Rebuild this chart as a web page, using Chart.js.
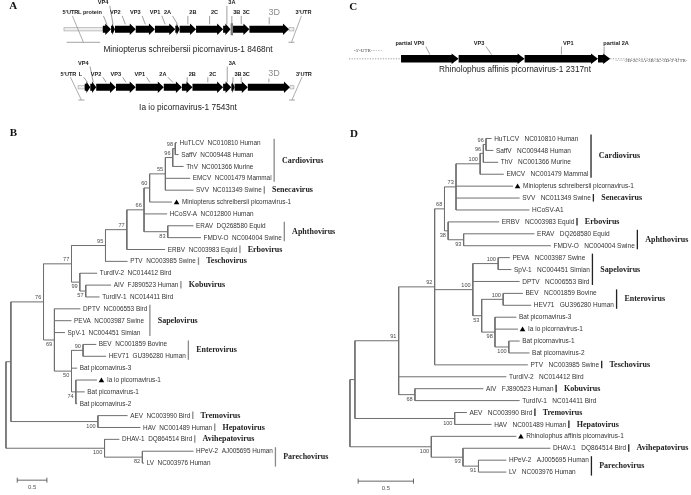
<!DOCTYPE html>
<html><head><meta charset="utf-8">
<script src="https://cdn.jsdelivr.net/npm/chart.js@4.4.1/dist/chart.umd.min.js"></script>
<style>html,body{margin:0;padding:0;background:#fff}canvas{display:block}</style>
</head><body>
<canvas id="c" width="691" height="495"></canvas>
<script>
// ================= DATA =================
// Panel A – genome maps (nt positions)
const a1Genes  = ['L protein','VP4','VP2','VP3','VP1','2A','2B','2C','3A','3B','3C','3D'];
const a1Start  = [1430,1733,1878,2643,3349,4099,4259,4863,5860,6137,6225,6829];
const a1End    = [1733,1878,2643,3349,4099,4259,4863,5860,6137,6225,6829,8285];
const a1Length = 8468;
const a1Caption = 'Miniopterus schreibersii picornavirus-1 8468nt';

const a2Genes  = ['L','VP4','VP2','VP3','VP1','2A','2B','2C','3A','3B','3C','3D'];
const a2Start  = [231,425,632,1323,2014,2995,3628,3997,5068,5355,5470,5932];
const a2End    = [425,632,1323,2014,2995,3628,3997,5068,5355,5470,5932,7404];
const a2Length = 7543;
const a2Caption = 'Ia io picornavirus-1 7543nt';

// Panel C – partial genome
const cGenes  = ['partial VP0','VP3','VP1','partial 2A'];
const cStart  = [0,638,1369,2182];
const cEnd    = [638,1369,2182,2317];
const cLength = 2317;
const cCaption = 'Rhinolophus affinis picornavirus-1 2317nt';
const cLeftText = "-5'-UTR-\u00b7\u00b7\u00b7\u00b7\u00b7\u00b7";
const cRightText = "\u00b7\u00b7\u00b7\u00b7\u00b7\u00b72B-2C-3A-3B-3C-3D-3'-UTR-";

// Panel B – tree (distances in substitutions/site)
const bNodeIds     = ['root','n7','n76','n77b','n95','n77a','n66','n60','n55','n96','n98','n83','n99','n57','n69','n50','n90','n74','nAH','nAP','n82'];
const bNodeParents = [null,'root','n7','n76','n77b','n95','n77a','n66','n60','n55','n96','n66','n77b','n99','n76','n69','n50','n50','n7','root','nAP'];
const bNodeDepth   = [0,0.083,0.633,1.105,1.678,2.038,2.328,2.422,2.688,2.812,2.855,2.728,1.245,1.345,0.817,1.105,1.300,1.178,1.550,1.662,2.300];
const bNodeSupport = [null,null,76,77,95,77,66,60,55,96,98,83,99,57,69,50,90,74,100,100,82];
const bLeafLabels = [
 'HuTLCV  NC010810 Human','SaffV  NC009448 Human','ThV  NC001366 Murine','EMCV  NC001479 Mammal',
 'SVV  NC011349 Swine','Miniopterus schreibersii picornavirus-1','HCoSV-A  NC012800 Human',
 'ERAV  DQ268580 Equid','FMDV-O  NC004004 Swine','ERBV  NC003983 Equid','PTV  NC003985 Swine',
 'TurdIV-2  NC014412 Bird','AIV  FJ890523 Human','TurdIV-1  NC014411 Bird','DPTV  NC006553 Bird',
 'PEVA  NC003987 Swine','SpV-1  NC004451 Simian','BEV  NC001859 Bovine','HEV71  GU396280 Human',
 'Bat picornavirus-3','Ia io picornavirus-1','Bat picornavirus-1','Bat picornavirus-2',
 'AEV  NC003990 Bird','HAV  NC001489 Human','DHAV-1  DQ864514 Bird','HPeV-2  AJ005695 Human','LV  NC003976 Human'];
const bLeafParents = ['n98','n98','n96','n55','n55','n60','n66','n83','n83','n77a','n95','n99','n57','n57','n69','n69','n69','n90','n90','n50','n74','n74','n74','nAH','nAH','nAP','n82','n82'];
const bLeafDepth   = [2.883,2.912,2.995,3.105,3.162,2.800,2.717,3.162,3.288,2.683,2.050,1.538,1.772,1.578,1.255,1.105,0.995,1.522,1.688,1.200,1.533,1.328,1.200,2.050,2.267,1.912,3.162,2.328];
const bMarked = ['Miniopterus schreibersii picornavirus-1','Ia io picornavirus-1'];
const bGenus      = ['Cardiovirus','Senecavirus','Aphthovirus','Erbovirus','Teschovirus','Kobuvirus','Sapelovirus','Enterovirus','Tremovirus','Hepatovirus','Avihepatovirus','Parechovirus'];
const bGenusFirst = [0,4,7,9,10,12,14,17,23,24,25,26];
const bGenusLast  = [3,4,8,9,10,12,16,18,23,24,25,27];

// Panel D – tree
const dNodeIds     = ['root','R1','n91b','n92','n68t','n73','n100C','n96a','n96b','n38','n93a','n100E','n100P','n53','n100BE','n98','n100B','n68','n100A','n100R','n93','n91'];
const dNodeParents = [null,'root','R1','n91b','n92','n68t','n73','n100C','n96a','n68t','n38','n92','n100E','n100E','n53','n53','n98','n91b','R1','root','n100R','n93'];
const dNodeDepth   = [0,0.045,0.440,0.765,0.854,0.958,1.176,1.205,1.229,0.887,1.027,1.110,1.339,1.190,1.384,1.310,1.435,0.587,0.946,0.735,1.021,1.161];
const dNodeSupport = [null,null,91,92,68,73,100,96,96,38,93,100,100,53,100,98,100,68,100,100,93,91];
const dLeafLabels = [
 'HuTLCV   NC010810 Human','SaffV   NC009448 Human','ThV   NC001366 Murine','EMCV   NC001479 Mammal',
 'Miniopterus schreibersii picornavirus-1','SVV   NC011349 Swine','HCoSV-A1','ERBV   NC003983 Equid',
 'ERAV   DQ268580 Equid','FMDV-O   NC004004 Swine','PEVA   NC003987 Swine','SpV-1   NC004451 Simian',
 'DPTV   NC006553 Bird','BEV   NC001859 Bovine','HEV71   GU396280 Human','Bat picornavirus-3',
 'Ia io picornavirus-1','Bat picornavirus-1','Bat picornavirus-2','PTV   NC003985 Swine',
 'TurdIV-2   NC014412 Bird','AIV   FJ890523 Human','TurdIV-1   NC014411 Bird','AEV   NC003990 Bird',
 'HAV   NC001489 Human','Rhinolophus affinis picornavirus-1','DHAV-1   DQ864514 Bird','HPeV-2   AJ005695 Human','LV   NC003976 Human'];
const dLeafParents = ['n96b','n96b','n96a','n100C','n73','n73','n73','n38','n93a','n93a','n100P','n100P','n100E','n100BE','n100BE','n98','n98','n100B','n100B','n92','n91b','n68','n68','n100A','n100A','n100R','n93','n91','n91'];
const dLeafDepth   = [1.279,1.295,1.339,1.390,1.473,1.533,1.622,1.348,1.667,1.815,1.444,1.458,1.533,1.562,1.637,1.503,1.518,1.533,1.622,1.607,1.413,1.205,1.533,1.056,1.279,1.503,1.810,1.413,1.413];
const dMarked = ['Miniopterus schreibersii picornavirus-1','Ia io picornavirus-1','Rhinolophus affinis picornavirus-1'];
const dGenus      = ['Cardiovirus','Senecavirus','Erbovirus','Aphthovirus','Sapelovirus','Enterovirus','Teschovirus','Kobuvirus','Tremovirus','Hepatovirus','Avihepatovirus','Parechovirus'];
const dGenusFirst = [0,5,7,8,10,13,19,21,23,24,26,27];
const dGenusLast  = [3,5,7,9,12,14,19,21,23,24,26,28];

const scaleBarLength = 0.5;
const scaleBarLabel = '0.5';

// ================= LAYOUT / STYLE =================
const W = 691, H = 495;
const SANS = '"Liberation Sans", Arial, Helvetica, sans-serif';
const SERIF = '"Liberation Serif", "Times New Roman", serif';
const L = {
  A1:{scale:'xA1', px0:60.7, k:1/36.4, yc:29.3, labDy:-16.6, upDy:-26.6, utrDy:13, caption:[188,50], up:['VP4','3A'], box:['3B'], shift:{'L protein':-17}},
  A2:{scale:'xA2', px0:75, k:1/34.55, yc:87.3, labDy:-13.3, upDy:-24, utrDy:12.7, caption:[188,107.4], up:['VP4','3A'], box:[], shift:{'L':-7}},
  C:{scale:'xC', px0:401.7, k:1/10.95, yc:58.8, labDy:-15.5, caption:[515,70], shift:{'partial VP0':-20,'VP3':-12.5,'VP1':7,'partial 2A':12}},
  B:{xs:'xB', ys:'yB', px0:2, ppu:60, py0:141, ppl:12.06, leafFont:6.4, lineColor:'#6f6f6f', barColor:'#8a8a8a', bar:[0.19,28.44], letter:[13.5,133]},
  D:{xs:'xD', ys:'yD', px0:350, ppu:112, py0:136.7, ppl:12.11, leafFont:6.5, lineColor:'#6f6f6f', barColor:'#222', bar:[0.074,28.76], letter:[354,134]},
  letters:{A:[13.3,6.2], C:[353.3,6.7]}
};
const belowB = ['n83','n99','n57','n69','n50','n74','nAH','nAP','n82'];
const belowD = ['n38','n93a','n53','n98','n100B','n68','n100A','n100R','n93','n91'];

function xRange(px0, ppu){ const min = -px0/ppu; return {min, max: min + W/ppu}; }
function yRange(py0, ppl){ const min = -py0/ppl; return {min, max: min + H/ppl}; }

// ================= TREE BUILD =================
function buildTree(ids, parents, depth, support, leafLabels, leafParents, leafDepth){
  const nodes = {};
  ids.forEach((id,i)=>nodes[id]={id, parent:parents[i], depth:depth[i], support:support[i], children:[], leaf:false});
  const leaves = leafLabels.map((lab,i)=>({id:'leaf'+i, label:lab, parent:leafParents[i], depth:leafDepth[i], y:i, leaf:true}));
  ids.forEach(id=>{const n=nodes[id]; if(n.parent) nodes[n.parent].children.push(n);});
  leaves.forEach(l=>nodes[l.parent].children.push(l));
  function ys(n){ if(n.leaf) return n.y; const cy=n.children.map(ys); n.ymin=Math.min(...cy); n.ymax=Math.max(...cy); n.y=(n.ymin+n.ymax)/2; return n.y; }
  ys(nodes[ids[0]]);
  const segs = [];
  const all = ids.map(id=>nodes[id]).concat(leaves);
  all.forEach(n=>{
    if(n.parent){ const p=nodes[n.parent]; segs.push({x:p.depth,y:n.y},{x:n.depth,y:n.y},{x:null,y:null}); }
    if(!n.leaf){ segs.push({x:n.depth,y:n.ymin},{x:n.depth,y:n.ymax},{x:null,y:null}); }
  });
  return {nodes, leaves, segs};
}
const treeB = buildTree(bNodeIds,bNodeParents,bNodeDepth,bNodeSupport,bLeafLabels,bLeafParents,bLeafDepth);
const treeD = buildTree(dNodeIds,dNodeParents,dNodeDepth,dNodeSupport,dLeafLabels,dLeafParents,dLeafDepth);

function markerData(tree, marked, ppu){
  return tree.leaves.filter(l=>marked.includes(l.label)).map(l=>({x:l.depth+4.6/ppu, y:l.y+0.05}));
}

// ================= DRAW HELPERS =================
function arrow(ctx,x0,x1,yc,bh,hh,hlMax){
  const len=x1-x0, hl=Math.min(hlMax, len*0.7);
  ctx.beginPath();
  ctx.moveTo(x0,yc-bh/2); ctx.lineTo(x1-hl,yc-bh/2); ctx.lineTo(x1-hl,yc-hh/2);
  ctx.lineTo(x1,yc); ctx.lineTo(x1-hl,yc+hh/2); ctx.lineTo(x1-hl,yc+bh/2); ctx.lineTo(x0,yc+bh/2);
  ctx.closePath(); ctx.fill();
}
function line(ctx,x0,y0,x1,y1,color,w){ctx.beginPath();ctx.strokeStyle=color;ctx.lineWidth=w;ctx.moveTo(x0,y0);ctx.lineTo(x1,y1);ctx.stroke();}

function drawGenome(chart, genes, starts, ends, length, caption, lay, isPartial){
  const ctx=chart.ctx, sc=chart.scales[lay.scale];
  const X=v=>sc.getPixelForValue(v);
  const yc=lay.yc;
  ctx.save();
  const gx0=X(starts[0]), gx1=X(ends[ends.length-1]);
  if(!isPartial){
    [[X(0),gx0],[gx1,X(length)]].forEach(([a,b])=>{
      ctx.fillStyle='#efefef'; ctx.fillRect(a,yc-1.6,b-a,3.2);
      ctx.strokeStyle='#a8a8a8'; ctx.lineWidth=0.7; ctx.strokeRect(a,yc-1.6,b-a,3.2);
    });
  } else {
    ctx.setLineDash([1.2,1.4]);
    line(ctx,gx0-52,yc,gx0,yc,'#9a9a9a',1);
    line(ctx,gx1,yc,gx1+70,yc,'#9a9a9a',1);
    ctx.setLineDash([]);
  }
  genes.forEach((g,i)=>{
    const x0=X(starts[i]), x1=X(ends[i]);
    if(lay.box && lay.box.includes(g)){ ctx.fillStyle='#7d7d7d'; ctx.fillRect(x0,yc-6,x1-x0,12); }
    else { ctx.fillStyle='#000'; if(isPartial) arrow(ctx,x0,x1,yc,7.6,10.5,7); else arrow(ctx,x0,x1,yc,7,11.5,6); }
  });
  const structural=['L protein','L','VP4','VP2','VP3','VP1','2A','partial VP0'];
  genes.forEach((g,i)=>{
    const x0=X(starts[i]), x1=X(ends[i]), mid=(x0+x1)/2;
    let shift = (lay.shift && lay.shift[g]!==undefined) ? lay.shift[g] : (structural.includes(g)?-10:5);
    const lx = mid+shift;
    const ly = yc + ((lay.up && lay.up.includes(g)) ? lay.upDy : lay.labDy);
    if(g==='3D'){ ctx.font='9px '+SANS; ctx.fillStyle='#8c8c8c'; }
    else { ctx.font='bold 5.6px '+SANS; ctx.fillStyle='#1a1a1a'; }
    ctx.textAlign='center'; ctx.textBaseline='middle';
    ctx.fillText(g,lx,ly);
    const w=ctx.measureText(g).width;
    const d=mid-lx, lim=w/2+1.5;
    const sx=lx+Math.max(-lim,Math.min(lim,d));
    const sy=ly+(g==='3D'?4.5:3.2);
    line(ctx,sx,sy,mid,yc-(isPartial?4.2:5),'#606060',0.6);
  });
  if(!isPartial){
    const u5m=(X(0)+gx0)/2, u3m=(gx1+X(length))/2, by=yc+lay.utrDy;
    ctx.font='bold 5.6px '+SANS; ctx.fillStyle='#1a1a1a'; ctx.textAlign='center'; ctx.textBaseline='middle';
    const l5x=u5m-13, l3x=u3m+12, ly=yc+lay.labDy;
    ctx.fillText("5'UTR",l5x,ly); ctx.fillText("3'UTR",l3x,ly);
    line(ctx,l5x+2,ly+3.2,u5m,by,'#8a8a8a',0.7);
    line(ctx,l3x-2,ly+3.2,u3m,by,'#8a8a8a',0.7);
    const h5=Math.max(6,(gx0-X(0))*0.86);
    line(ctx,u5m-h5/2,by,u5m+h5/2,by,'#8a8a8a',0.8);
    line(ctx,u3m-3,by,u3m+3,by,'#8a8a8a',0.8);
  } else {
    ctx.font='5px '+SERIF; ctx.fillStyle='#444'; ctx.textBaseline='middle';
    ctx.textAlign='left'; ctx.fillText(cLeftText,gx0-47,yc-8);
    ctx.fillText(cRightText,gx1+5,yc+2);
  }
  ctx.font='8.3px '+SANS; ctx.fillStyle='#222'; ctx.textAlign='center'; ctx.textBaseline='middle';
  ctx.fillText(caption,lay.caption[0],lay.caption[1]);
  ctx.restore();
}

function drawTreeText(chart, tree, lay, marked, below, genus, gFirst, gLast){
  const ctx=chart.ctx, xs=chart.scales[lay.xs], ys=chart.scales[lay.ys];
  const X=v=>xs.getPixelForValue(v), Y=v=>ys.getPixelForValue(v);
  ctx.save();
  ctx.font=lay.leafFont+'px '+SANS; ctx.fillStyle='#333'; ctx.textAlign='left'; ctx.textBaseline='middle';
  const ends=[];
  tree.leaves.forEach((l,i)=>{
    const x=X(l.depth)+(marked.includes(l.label)?10:2.6);
    ctx.fillText(l.label,x,Y(l.y)+0.3);
    ends[i]=x+ctx.measureText(l.label).width;
  });
  ctx.font='5.6px '+SANS; ctx.fillStyle='#4a4a4a'; ctx.textAlign='right';
  Object.values(tree.nodes).forEach(n=>{
    if(n.support==null) return;
    const isBelow=below.includes(n.id);
    ctx.textBaseline=isBelow?'top':'bottom';
    ctx.fillText(String(n.support),X(n.depth)-2.2,Y(n.y)+(isBelow?1.8:-1.4));
  });
  genus.forEach((g,i)=>{
    let mx=0; for(let k=gFirst[i];k<=gLast[i];k++) mx=Math.max(mx,ends[k]);
    const bx=mx+2.6, y0=Y(gFirst[i])-4, y1=Y(gLast[i])+3.5;
    line(ctx,bx,y0,bx,y1,lay.barColor,1.3);
    ctx.font='bold 8px '+SERIF; ctx.fillStyle='#222'; ctx.textAlign='left'; ctx.textBaseline='middle';
    ctx.fillText(g,bx+7.8,(y0+y1)/2+0.3);
  });
  const sx0=X(lay.bar[0]), sx1=X(lay.bar[0]+scaleBarLength), sy=Y(lay.bar[1]);
  line(ctx,sx0,sy,sx1,sy,'#555',0.9);
  line(ctx,sx0,sy-2.5,sx0,sy+2.5,'#555',0.9);
  line(ctx,sx1,sy-2.5,sx1,sy+2.5,'#555',0.9);
  ctx.font='6px '+SANS; ctx.fillStyle='#555'; ctx.textAlign='center'; ctx.textBaseline='middle';
  ctx.fillText(scaleBarLabel,(sx0+sx1)/2,sy+7.5);
  ctx.restore();
}

const figurePlugin = {
  id:'figure',
  afterDatasetsDraw(chart){
    drawGenome(chart,a1Genes,a1Start,a1End,a1Length,a1Caption,L.A1,false);
    drawGenome(chart,a2Genes,a2Start,a2End,a2Length,a2Caption,L.A2,false);
    drawGenome(chart,cGenes,cStart,cEnd,cLength,cCaption,L.C,true);
    drawTreeText(chart,treeB,L.B,bMarked,belowB,bGenus,bGenusFirst,bGenusLast);
    drawTreeText(chart,treeD,L.D,dMarked,belowD,dGenus,dGenusFirst,dGenusLast);
    const ctx=chart.ctx; ctx.save();
    ctx.font='bold 11px '+SERIF; ctx.fillStyle='#111'; ctx.textAlign='center'; ctx.textBaseline='middle';
    ctx.fillText('A',L.letters.A[0],L.letters.A[1]);
    ctx.fillText('B',L.B.letter[0],L.B.letter[1]);
    ctx.fillText('C',L.letters.C[0],L.letters.C[1]);
    ctx.fillText('D',L.D.letter[0],L.D.letter[1]);
    ctx.restore();
  }
};

const hidden = o => Object.assign({type:'linear', display:false, bounds:'data', grid:{display:false}}, o);
const xB=xRange(L.B.px0,L.B.ppu), yB=yRange(L.B.py0,L.B.ppl);
const xD=xRange(L.D.px0,L.D.ppu), yD=yRange(L.D.py0,L.D.ppl);
const xA1=xRange(L.A1.px0,L.A1.k), xA2=xRange(L.A2.px0,L.A2.k), xC=xRange(L.C.px0,L.C.k);

new Chart(document.getElementById('c'), {
  type:'scatter',
  data:{datasets:[
    {type:'line', data:treeB.segs, xAxisID:'xB', yAxisID:'yB', borderColor:L.B.lineColor, borderWidth:1, pointRadius:0, spanGaps:false, showLine:true, fill:false},
    {type:'line', data:treeD.segs, xAxisID:'xD', yAxisID:'yD', borderColor:L.D.lineColor, borderWidth:1, pointRadius:0, spanGaps:false, showLine:true, fill:false},
    {data:markerData(treeB,bMarked,L.B.ppu), xAxisID:'xB', yAxisID:'yB', pointStyle:'triangle', pointRadius:3.2, backgroundColor:'#000', borderColor:'#000', borderWidth:0},
    {data:markerData(treeD,dMarked,L.D.ppu), xAxisID:'xD', yAxisID:'yD', pointStyle:'triangle', pointRadius:3.2, backgroundColor:'#000', borderColor:'#000', borderWidth:0}
  ]},
  options:{
    responsive:false, animation:false, devicePixelRatio:1, events:[],
    layout:{padding:0},
    plugins:{legend:{display:false}, tooltip:{enabled:false}},
    scales:{
      x:hidden({axis:'x', min:0, max:1}), y:hidden({axis:'y', min:0, max:1}),
      xB:hidden({axis:'x', position:'bottom', min:xB.min, max:xB.max}),
      yB:hidden({axis:'y', position:'left', reverse:true, min:yB.min, max:yB.max}),
      xD:hidden({axis:'x', position:'bottom', min:xD.min, max:xD.max}),
      yD:hidden({axis:'y', position:'left', reverse:true, min:yD.min, max:yD.max}),
      xA1:hidden({axis:'x', position:'bottom', min:xA1.min, max:xA1.max}),
      xA2:hidden({axis:'x', position:'bottom', min:xA2.min, max:xA2.max}),
      xC:hidden({axis:'x', position:'bottom', min:xC.min, max:xC.max})
    }
  },
  plugins:[figurePlugin]
});
</script>
</body></html>
